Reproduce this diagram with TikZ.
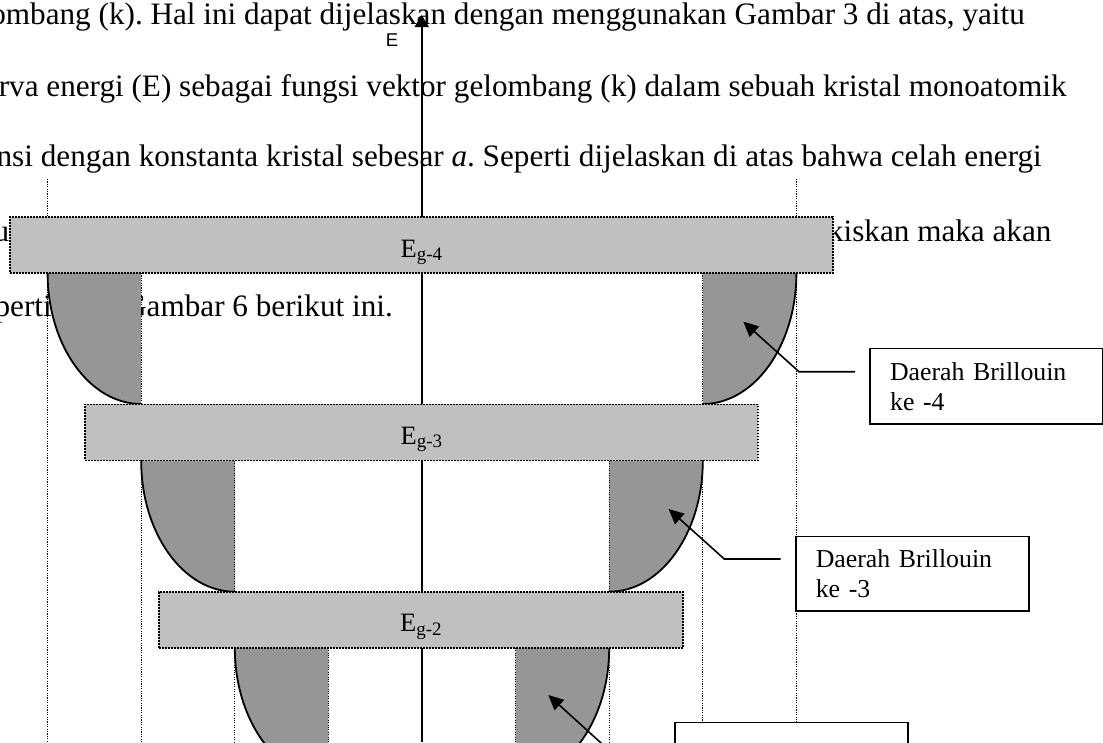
\documentclass[tikz,border=0pt]{standalone}
\usepackage{fontspec}
\setmainfont{Liberation Serif}
\newfontfamily\axisfont{Liberation Sans}
\usetikzlibrary{arrows.meta,calc}
\definecolor{bandgray}{HTML}{C0C0C0}
\definecolor{zonegray}{HTML}{969696}
\frenchspacing

% Brillouin zone piece: quarter ellipse from (outer x, top y) to (inner x, top y + 131)
\newcommand{\brzone}[3]{%
  \fill[zone] (#1,#3) .. controls (#1,#3+72.35) and ({#2+0.5523*(#1-#2)},#3+131) .. (#2,#3+131) -- (#2,#3) -- cycle;
  \draw[zoneedge] (#1,#3) .. controls (#1,#3+72.35) and ({#2+0.5523*(#1-#2)},#3+131) .. (#2,#3+131);}

\begin{document}
\begin{tikzpicture}[x=1pt,y=-1pt,
  body/.style={font=\fontsize{31.2}{37}\selectfont, inner sep=0pt, anchor=base east},
  gridline/.style={line width=1.1pt, dash pattern=on 1.1pt off 1.3pt},
  band/.style={draw, fill=bandgray, line width=1.8pt, dash pattern=on 1.8pt off 1.2pt,
               minimum height=56pt, inner sep=0pt},
  bandlabel/.style={anchor=base, inner sep=0pt, font=\fontsize{26.5}{30}\selectfont},
  zone/.style={fill=zonegray},
  zoneedge/.style={line width=1.8pt},
  axisline/.style={line width=1.6pt, -{Triangle[length=12pt,width=14pt]}},
  callout/.style={line width=1.6pt, -{Triangle[length=15pt,width=14pt]}},
  calbox/.style={draw, line width=1.6pt, fill=white, anchor=north west, align=left,
                 text width=193pt, inner xsep=20pt, inner ysep=0pt,
                 font=\fontsize{25.8}{30}\selectfont}
]
\useasboundingbox (0,0) rectangle (1103,742);
\clip (0,0) rectangle (1103,742);

% running text behind the figure
\node[body] (l1) at (1025,24) {ombang (k). Hal ini dapat dijelaskan dengan menggunakan Gambar 3 di atas, yaitu};
\node[body] (l2) at (1066.7,96.7) {rva energi (E) sebagai fungsi vektor gelombang (k) dalam sebuah kristal monoatomik};
\node[body] (l3) at (1042,166.5) {nsi dengan konstanta kristal sebesar \textit{a}. Seperti dijelaskan di atas bahwa celah energi};
\node[body] (l4a) at (9.5,241.5) {u};
\node[body] (l4b) at (1051.7,241.5) {kiskan maka akan};
\node[body] (l5a) at (52,316.5) {perti};
\node[body] (l5b) at (393,316.5) {Gambar 6 berikut ini.};

% allowed-energy pieces (shaded)
\brzone{47.6}{141.2}{273}
\brzone{796.4}{702.8}{273}
\brzone{141.2}{234.8}{460.7}
\brzone{702.8}{609.2}{460.7}
\brzone{234.8}{328.4}{647.7}
\brzone{609.2}{515.6}{647.7}

% zone boundaries
\draw[gridline] (47.6,179) -- (47.6,742);
\draw[gridline] (796.4,179) -- (796.4,742);
\draw[gridline] (141.2,273) -- (141.2,742);
\draw[gridline] (702.8,273) -- (702.8,742);
\draw[gridline] (234.8,460.7) -- (234.8,742);
\draw[gridline] (609.2,460.7) -- (609.2,742);
\draw[gridline] (328.4,647.7) -- (328.4,742);
\draw[gridline] (515.6,647.7) -- (515.6,742);

% energy axis
\coordinate (axbot) at (421.7,742);
\coordinate (axtop) at (421.7,15);
\draw[axisline] (axbot) -- (axtop);
\node[font=\axisfont\fontsize{18.5}{20}\selectfont, inner sep=0pt] (elab) at (392,40) {E};

% energy gaps
\node[band, minimum width=823pt] (g4) at (421.4,245.2) {};
\node[band, minimum width=673pt] (g3) at (421.4,432.4) {};
\node[band, minimum width=524pt] (g2) at (420.9,619.7) {};
\node[bandlabel] (lg4) at ($(g4.center)+(0,12)$) {E\raisebox{-3.5pt}{\fontsize{19}{20}\selectfont g-4}};
\node[bandlabel] (lg3) at ($(g3.center)+(0,12)$) {E\raisebox{-3.5pt}{\fontsize{19}{20}\selectfont g-3}};
\node[bandlabel] (lg2) at ($(g2.center)+(0,12)$) {E\raisebox{-3.5pt}{\fontsize{19}{20}\selectfont g-2}};

% callouts
\node[calbox, minimum height=75.6pt] (b4) at (869.3,347.7) {Daerah Brillouin\\ke -4};
\node[calbox, minimum height=74.3pt] (b3) at (795,535.7) {Daerah Brillouin\\ke -3};
\node[calbox, minimum height=75pt] (b2) at (674.3,721.7) {};

\coordinate (t4) at (743.3,321.7);
\coordinate (k4) at (799,371.7);
\coordinate (t3) at (668.6,509);
\coordinate (k3) at (724.3,559);
\coordinate (t2) at (548.3,695);
\coordinate (k2) at (603.8,745.5);

\draw[callout] ($(b4.west |- k4)+(-14.3,0)$) -- (k4) -- (t4);
\draw[callout] ($(b3.west |- k3)+(-14.3,0)$) -- (k3) -- (t3);
\draw[callout] ($(b2.west |- k2)+(-14.3,0)$) -- (k2) -- (t2);
\end{tikzpicture}
\end{document}
